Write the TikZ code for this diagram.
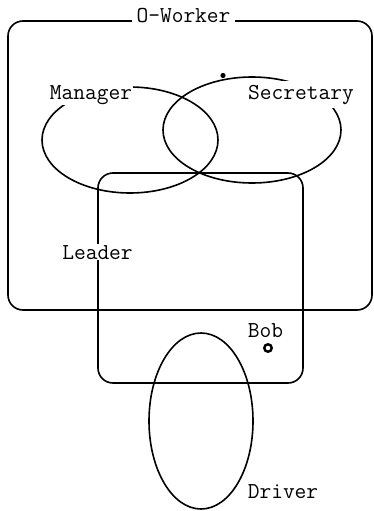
\documentclass[tikz,border=0pt]{standalone}
\begin{document}
\begin{tikzpicture}[x=1pt,y=-1pt, line width=1.6pt,
  lbl/.style={font=\ttfamily\fontsize{22.8}{26}\selectfont, fill=white, inner sep=1pt, anchor=base},
  region/.style={draw, line width=1.6pt}]
\useasboundingbox (0,0) rectangle (374,511);
% O-Worker box
\draw[region, rounded corners=15pt] (8,21) rectangle (372,310);
% Manager and Secretary ellipses
\draw[region] (130,140) ellipse [x radius=88pt, y radius=53pt];
\draw[region] (252,130) ellipse [x radius=89pt, y radius=53pt];
% Leader box
\draw[region, rounded corners=15pt] (98,173) rectangle (303,383);
% Driver ellipse
\draw[region] (201,421) ellipse [x radius=52pt, y radius=88pt];
% small mark
\fill (223,75.5) circle [radius=2.6pt];
% labels
\node[lbl, inner xsep=5pt] (ow) at (183.5,23) {O-Worker};
\node[lbl] (mgr) at (91,99) {Manager};
\node[lbl, inner sep=4pt] (sec) at (301,99) {Secretary};
\node[lbl] (ldr) at (97.5,259) {Leader};
\node[lbl] (bob) at (265.5,337) {Bob};
\node[circle, draw, line width=2.4pt, minimum size=7.5pt, inner sep=0pt] (bobdot) at (268,348) {};
\node[lbl] (drv) at (283,498) {Driver};
\end{tikzpicture}
\end{document}
